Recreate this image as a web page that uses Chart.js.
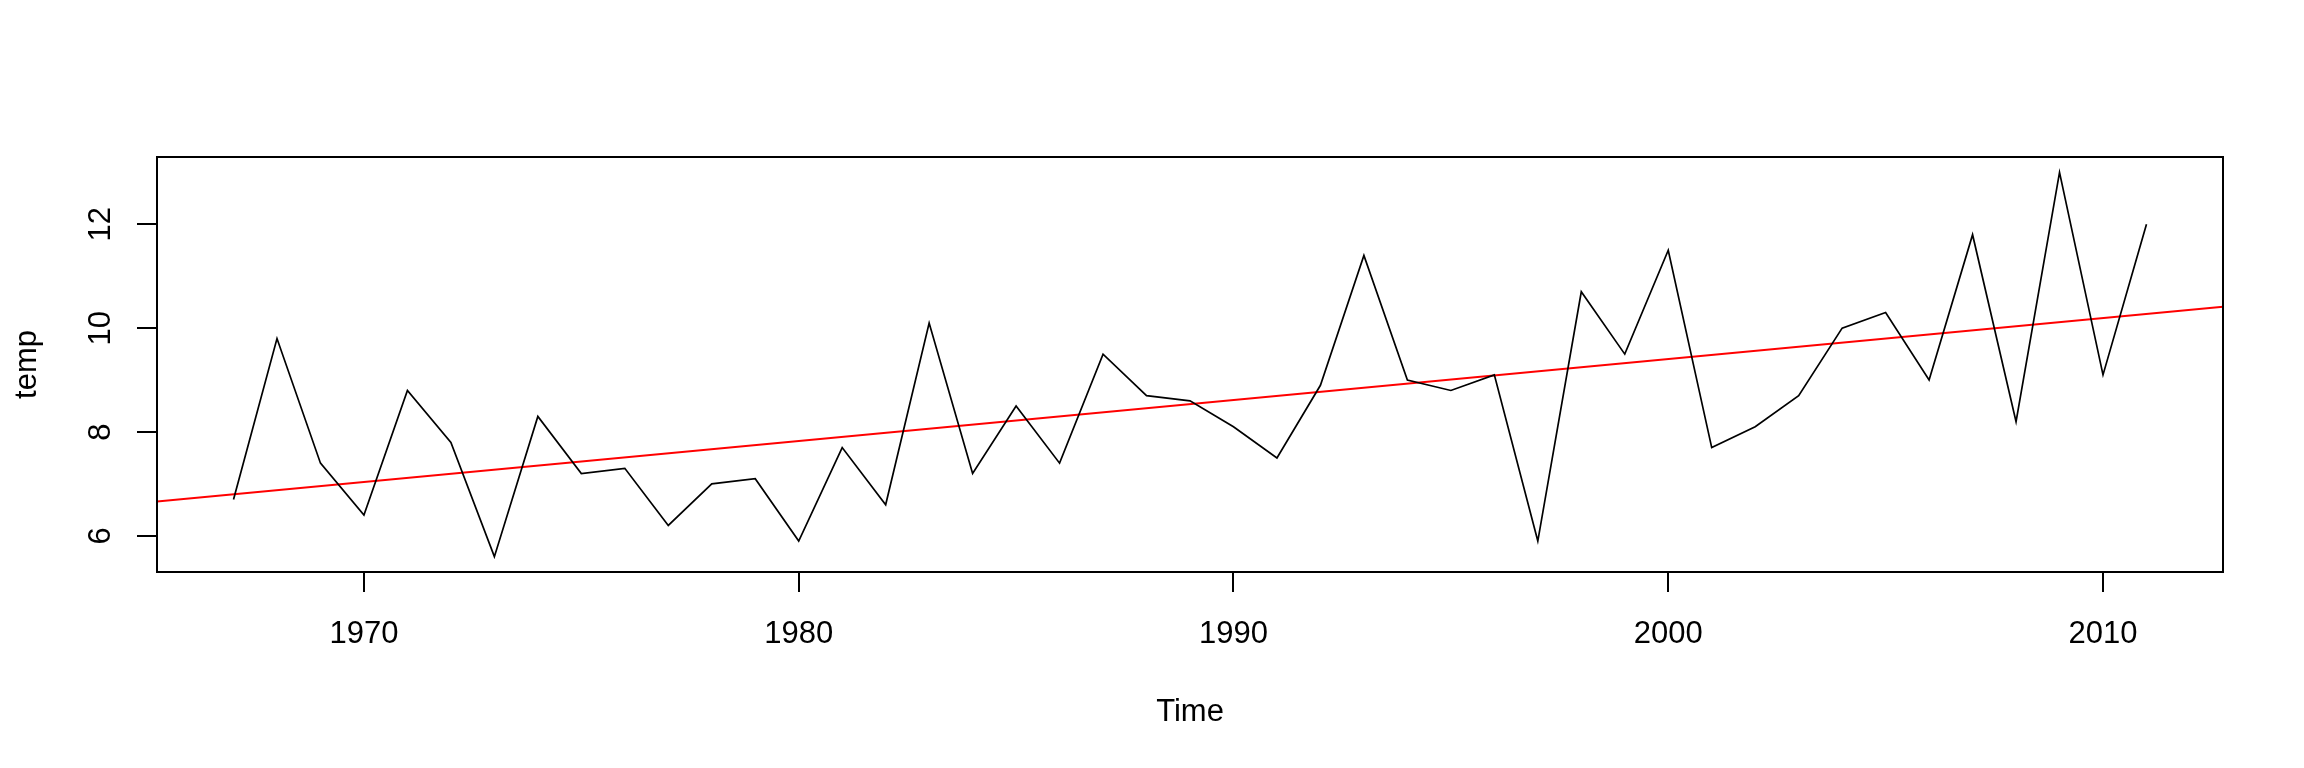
<!DOCTYPE html>
<html>
<head>
<meta charset="utf-8">
<title>temp</title>
<script src="https://cdn.jsdelivr.net/npm/chart.js@4.4.1/dist/chart.umd.min.js"></script>
<style>
  html, body { margin: 0; padding: 0; background: #fff; }
  canvas { display: block; }
</style>
</head>
<body>
<canvas id="tempChart" width="2304" height="768"></canvas>
<script>
// Datos
const years = [
  1967, 1968, 1969, 1970, 1971, 1972, 1973, 1974, 1975, 1976,
  1977, 1978, 1979, 1980, 1981, 1982, 1983, 1984, 1985, 1986,
  1987, 1988, 1989, 1990, 1991, 1992, 1993, 1994, 1995, 1996,
  1997, 1998, 1999, 2000, 2001, 2002, 2003, 2004, 2005, 2006,
  2007, 2008, 2009, 2010, 2011
];
const temp = [
  6.7, 9.8, 7.4, 6.4, 8.8, 7.8, 5.6, 8.3, 7.2, 7.3,
  6.2, 7.0, 7.1, 5.9, 7.7, 6.6, 10.1, 7.2, 8.5, 7.4,
  9.5, 8.7, 8.6, 8.1, 7.5, 8.9, 11.4, 9.0, 8.8, 9.1,
  5.9, 10.7, 9.5, 11.5, 7.7, 8.1, 8.7, 10.0, 10.3, 9.0,
  11.8, 8.2, 13.0, 9.1, 12.0
];
// linea de tendencia (abline) en los extremos del eje
const trendYears = [1965.24, 2012.76];
const trendTemp = [6.66, 10.41];

const xTicks = [1970, 1980, 1990, 2000, 2010];
const yTicks = [6, 8, 10, 12];
const xLimits = [1965.24, 2012.76];
const yLimits = [5.304, 13.296];

const FONT = "'Liberation Sans', Arial, sans-serif";

// marco del area de trazado, como box() en R
const boxPlugin = {
  id: "box",
  afterDatasetsDraw(chart) {
    const { ctx, chartArea } = chart;
    ctx.save();
    ctx.strokeStyle = "#000";
    ctx.lineWidth = 2;
    ctx.strokeRect(chartArea.left, chartArea.top,
      chartArea.right - chartArea.left, chartArea.bottom - chartArea.top);
    ctx.restore();
  },
};

new Chart(document.getElementById("tempChart"), {
  type: "line",
  data: {
    datasets: [
      {
        label: "temp",
        data: years.map((y, i) => ({ x: y, y: temp[i] })),
        borderColor: "#000000",
        borderWidth: 1.7,
        pointRadius: 0,
        tension: 0,
        fill: false,
      },
      {
        label: "tendencia",
        data: trendYears.map((y, i) => ({ x: y, y: trendTemp[i] })),
        borderColor: "#ff0000",
        borderWidth: 2,
        pointRadius: 0,
        fill: false,
      },
    ],
  },
  options: {
    responsive: false,
    animation: false,
    events: [],
    layout: { padding: { top: 157, right: 81, bottom: 0, left: 0 } },
    plugins: {
      legend: { display: false },
      tooltip: { enabled: false },
    },
    scales: {
      x: {
        type: "linear",
        min: xLimits[0],
        max: xLimits[1],
        afterBuildTicks: (scale) => {
          scale.ticks = xTicks.map((v) => ({ value: v }));
        },
        afterFit: (scale) => {
          scale.height = 196;
        },
        border: { display: false },
        grid: {
          drawOnChartArea: false,
          drawTicks: true,
          tickLength: 20,
          color: "#000",
          lineWidth: 2,
        },
        ticks: {
          color: "#000",
          font: { family: FONT, size: 31 },
          padding: 24,
          maxRotation: 0,
          autoSkip: false,
          callback: (v) => String(v),
        },
        title: {
          display: true,
          text: "Time",
          color: "#000",
          font: { family: FONT, size: 31 },
          padding: { top: 0, bottom: 37 },
        },
      },
      y: {
        type: "linear",
        min: yLimits[0],
        max: yLimits[1],
        afterBuildTicks: (scale) => {
          scale.ticks = yTicks.map((v) => ({ value: v }));
        },
        afterFit: (scale) => {
          scale.width = 157;
        },
        border: { display: false },
        grid: {
          drawOnChartArea: false,
          drawTicks: true,
          tickLength: 20,
          color: "#000",
          lineWidth: 2,
        },
        ticks: {
          color: "#000",
          font: { family: FONT, size: 31 },
          padding: 18,
          minRotation: 90,
          maxRotation: 90,
          crossAlign: "center",
          autoSkip: false,
          callback: (v) => String(v),
        },
        title: {
          display: true,
          text: "temp",
          color: "#000",
          font: { family: FONT, size: 31 },
          padding: { top: 9, bottom: 0 },
        },
      },
    },
  },
  plugins: [boxPlugin],
});
</script>
</body>
</html>
